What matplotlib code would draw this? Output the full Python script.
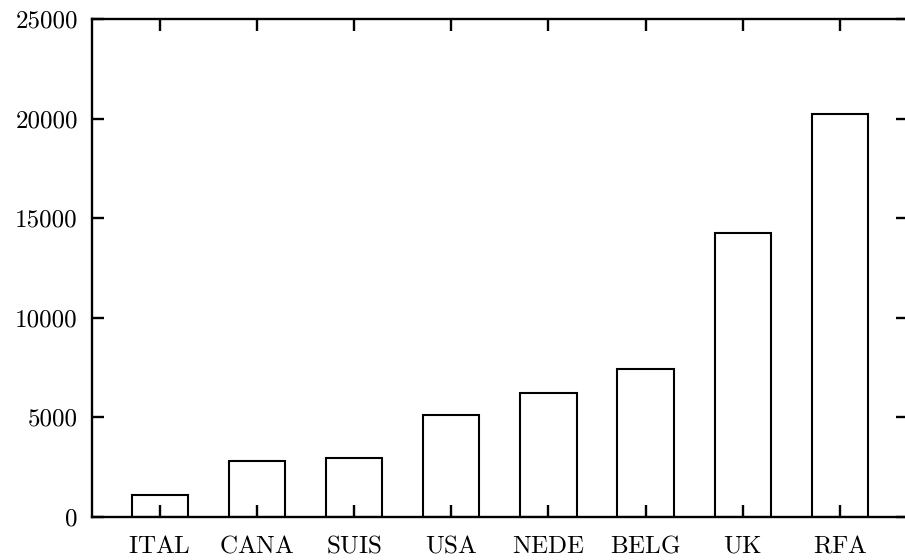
"""Bar chart of country totals, drawn as unfilled boxes."""

from __future__ import annotations

import matplotlib

matplotlib.use("Agg")
import matplotlib.pyplot as plt

countries = ["ITAL", "CANA", "SUIS", "USA", "NEDE", "BELG", "UK", "RFA"]
totals = [1100, 2790, 2950, 5100, 6230, 7420, 14270, 20250]
y_ticks = [0, 5000, 10000, 15000, 20000, 25000]


def main() -> int:
    plt.rcParams["font.family"] = ["cmr10", "DejaVu Serif"]
    plt.rcParams["mathtext.fontset"] = "cm"
    plt.rcParams["axes.formatter.use_mathtext"] = True

    fig = plt.figure(figsize=(9.05, 5.6), dpi=100)
    ax = fig.add_axes([0.1013, 0.0773, 0.902, 0.8888])

    xs = list(range(len(countries)))
    ax.bar(xs, totals, width=0.58, facecolor="none", edgecolor="black",
           linewidth=1.5, zorder=3)

    ax.set_xlim(-0.7, len(countries) - 0.3)
    ax.set_ylim(0, 25000)
    ax.set_xticks(xs)
    # mathtext keeps the names on a common baseline with cmr10
    ax.set_xticklabels([rf"$\mathrm{{{c}}}$" for c in countries])
    ax.set_yticks(y_ticks)
    ax.set_yticklabels([str(v) for v in y_ticks])

    for spine in ax.spines.values():
        spine.set_linewidth(1.7)
    ax.tick_params(axis="both", direction="in", length=8.5, width=1.7,
                   top=True, right=True, labelsize=18, color="black")
    ax.tick_params(axis="x", pad=26)
    for label in ax.get_xticklabels():
        label.set_verticalalignment("baseline")
    ax.tick_params(axis="y", pad=10)

    fig.savefig("out.png", dpi=100)
    plt.close(fig)
    return 0


if __name__ == "__main__":
    raise SystemExit(main())
